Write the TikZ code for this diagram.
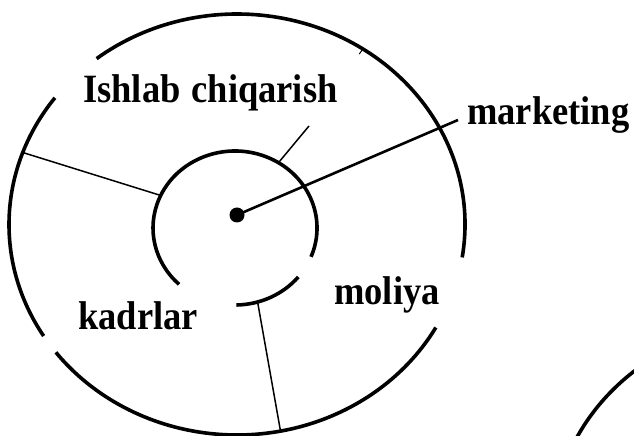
\documentclass[tikz,border=0pt]{standalone}
\usepackage{fontspec}
\setmainfont{Liberation Serif}
\begin{document}
\begin{tikzpicture}[x=1pt,y=1pt,
  bigarc/.style={line width=3.6pt},
  thinline/.style={line width=1.5pt},
  midline/.style={line width=2.6pt},
  lbl/.style={inner sep=0pt,anchor=base west,yscale=1.1,transform shape,font=\fontsize{36.5}{40}\selectfont\bfseries}]
\useasboundingbox (0,0) rectangle (634,436);
% centres
\coordinate (O) at (237,211.5);
\coordinate (I) at (235,208);
% outer ellipse arcs
\draw[bigarc] ([shift={(O)}]-9:228pt and 210.5pt) arc[start angle=-9,end angle=128,x radius=228pt,y radius=210.5pt];
\draw[bigarc] ([shift={(O)}]143:228pt and 210.5pt) arc[start angle=143,end angle=212,x radius=228pt,y radius=210.5pt];
\draw[bigarc] ([shift={(O)}]217.4:228pt and 210.5pt) arc[start angle=217.4,end angle=330.7,x radius=228pt,y radius=210.5pt];
% inner ellipse arcs
\draw[bigarc] ([shift={(I)}]-22:82pt and 77pt) arc[start angle=-22,end angle=227,x radius=82pt,y radius=77pt];
\draw[bigarc] ([shift={(I)}]-89:82pt and 77pt) arc[start angle=-89,end angle=-39.5,x radius=82pt,y radius=77pt];
% partial circle bottom right
\begin{scope}
\clip (0,0) rectangle (634,436);
\draw[bigarc] ([shift={(780,-97)}]115:228pt and 210.5pt) arc[start angle=115,end angle=165,x radius=228pt,y radius=210.5pt];
\end{scope}
% points for connectors
\coordinate (o1) at ([shift={(O)}]160:228pt and 210.5pt);
\coordinate (i1) at ([shift={(I)}]155:82pt and 77pt);
\coordinate (i2) at ([shift={(I)}]58:82pt and 77pt);
\coordinate (f2) at (309,310);
\coordinate (i3) at ([shift={(I)}]-74:82pt and 77pt);
\coordinate (o3) at ([shift={(O)}]-79:228pt and 210.5pt);
\coordinate (tk) at ([shift={(O)}]56.5:228pt and 210.5pt);
\coordinate (tk2) at ([shift={(-3.5,-5)}]tk);
\node[circle,fill=black,inner sep=0pt,minimum size=15pt] (dot) at (237,221) {};
\coordinate (mk) at (458,316);
% connectors
\draw[thinline] (o1) -- (i1);
\draw[thinline] (i2) -- (f2);
\draw[thinline] (i3) -- (o3);
\draw[line width=1pt] (tk) -- (tk2);
\draw[midline] (dot.center) -- (mk);
% labels
\node[lbl] (ish) at (83,333) {Ishlab\hspace{11pt}chiqarish};
\node[lbl] (mar) at (467,311) {marketing};
\node[lbl] (mol) at (334,131) {moliya};
\node[lbl] (kad) at (78,106) {kadrlar};
\end{tikzpicture}
\end{document}
